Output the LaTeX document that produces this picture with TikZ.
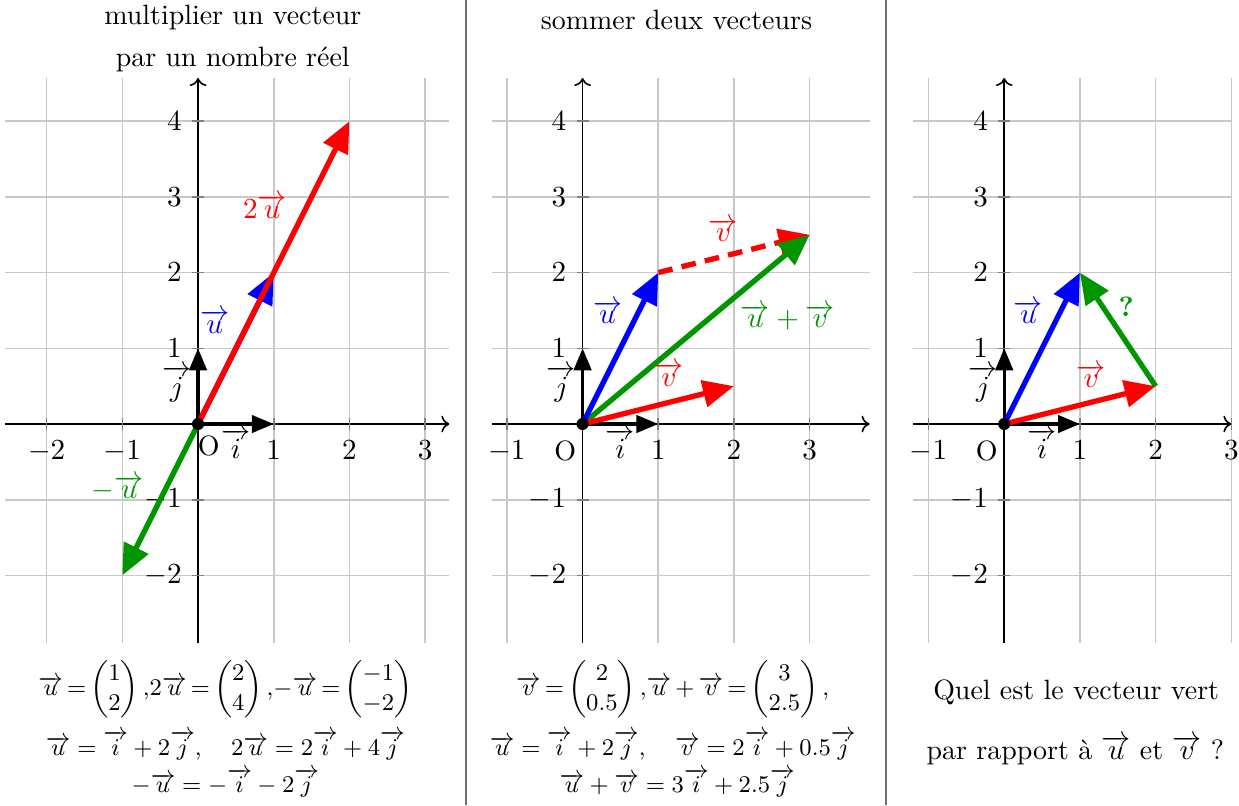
\documentclass[tikz,border=0pt]{standalone}
\usepackage{amsmath}
\usepackage{tikz}
\usetikzlibrary{arrows.meta}
\definecolor{vecgreen}{RGB}{0,150,0}
\definecolor{gridgray}{RGB}{200,200,200}
\definecolor{sepgray}{RGB}{110,110,110}
\tikzset{
  gridline/.style={gridgray, line width=0.6pt},
  axis/.style={-{To[length=3pt]}, line width=0.6pt},
  tickmark/.style={gray, line width=0.6pt},
  unitvec/.style={-{Triangle[length=0.29cm,width=0.23cm]}, line width=1.2pt},
  vecarrow/.style={-{Triangle[length=0.41cm,width=0.35cm]}, line width=2pt},
  xlab/.style={anchor=north, inner sep=0pt},
  ylab/.style={anchor=east, inner sep=0pt},
  vlab/.style={inner sep=0pt},
  eqn/.style={inner sep=0pt, font=\fontsize{9.5}{11}\selectfont},
  tighteqn/.style={eqn, execute at begin node={\thickmuskip=3mu plus 2mu\medmuskip=3mu plus 2mu}},
  separator/.style={sepgray, line width=1pt},
}

\begin{document}
\begin{tikzpicture}[font=\fontsize{10.5}{12.6}\selectfont]
  \useasboundingbox (-2.616,-5.033) rectangle (13.751,5.601);
  % separators
  \coordinate (s1t) at (3.54,5.601);  \coordinate (s1b) at (3.54,-5.033);
  \coordinate (s2t) at (9.09,5.601);  \coordinate (s2b) at (9.09,-5.033);
  \draw[separator] (s1t) -- (s1b);
  \draw[separator] (s2t) -- (s2b);

  % panel 1 : multiplier
  \begin{scope}
    \foreach \x in {-2,...,3} \draw[gridline] (\x,-2.89) -- (\x,4.57);
    \foreach \y in {-2,...,4} \draw[gridline] (-2.55,\y) -- (3.32,\y);
    \draw[axis] (-2.55,0) -- (3.32,0);
    \draw[axis] (0,-2.89) -- (0,4.57);
    \foreach \x [count=\k] in {-2,-1,1,2,3} {
      \draw[tickmark] (\x,-0.08) -- (\x,0.08);
      \node[xlab] (p1x\k) at (\x,-0.21) {$\x$};
    }
    \foreach \y [count=\k] in {-2,-1,1,2,3,4} {
      \draw[tickmark] (-0.08,\y) -- (0.08,\y);
      \node[ylab] (p1y\k) at (-0.21,\y) {$\y$};
    }
    \node[anchor=north west, inner sep=0pt] (o1) at (-0.01,-0.15) {O};
    \coordinate (O1) at (0,0);
    \coordinate (I1) at (1,0);
    \coordinate (J1) at (0,1);
    \coordinate (U1) at (1,2);
    \coordinate (W1) at (2,4);
    \coordinate (M1) at (-1,-2);
    \draw[unitvec] (O1) -- (I1);
    \draw[unitvec] (O1) -- (J1);
    \node[vlab, anchor=north] (i1) at (0.5,-0.06) {$\overrightarrow{i}$};
    \node[vlab] (j1) at (-0.28,0.53) {$\overrightarrow{j}$};
    \draw[vecarrow, blue] (O1) -- (U1);
    \draw[vecarrow, red, xshift=-1.3pt] (O1) -- (W1);
    \draw[vecarrow, vecgreen] (O1) -- (M1);
    \fill (O1) circle (0.08);
    \node[vlab, text=blue] (lu1) at (0.22,1.35) {$\overrightarrow{u}$};
    \node[vlab, text=red] (lw1) at (0.885,2.87) {$2\overrightarrow{u}$};
    \node[vlab, text=vecgreen] (lm1) at (-1.06,-0.85) {$-\overrightarrow{u}$};
    \node[align=center] (t1) at (0.46,5.095) {multiplier un vecteur\\[3pt]par un nombre réel};
    \node[tighteqn] (e1a) at (0.36,-3.51)
      {$\overrightarrow{u}=\begin{pmatrix}1\\2\end{pmatrix}{,}2\overrightarrow{u}=\begin{pmatrix}2\\4\end{pmatrix}{,}{-}\overrightarrow{u}=\begin{pmatrix}-1\\-2\end{pmatrix}$};
    \node[eqn] (e1b) at (0.36,-4.25)
      {$\overrightarrow{u}=\overrightarrow{i}+2\overrightarrow{j},\quad 2\overrightarrow{u}=2\overrightarrow{i}+4\overrightarrow{j}$};
    \node[eqn] (e1c) at (0.36,-4.74)
      {$-\overrightarrow{u}=-\overrightarrow{i}-2\overrightarrow{j}$};
  \end{scope}

  % panel 2 : sommer
  \begin{scope}[shift={(5.08,0)}]
    \foreach \x in {-1,...,3} \draw[gridline] (\x,-2.89) -- (\x,4.57);
    \foreach \y in {-2,...,4} \draw[gridline] (-1.2,\y) -- (3.79,\y);
    \draw[axis] (-1.2,0) -- (3.79,0);
    \draw[axis] (0,-2.89) -- (0,4.57);
    \foreach \x [count=\k] in {-1,1,2,3} {
      \draw[tickmark] (\x,-0.08) -- (\x,0.08);
      \node[xlab] (p2x\k) at (\x,-0.21) {$\x$};
    }
    \foreach \y [count=\k] in {-2,-1,1,2,3,4} {
      \draw[tickmark] (-0.08,\y) -- (0.08,\y);
      \node[ylab] (p2y\k) at (-0.21,\y) {$\y$};
    }
    \node[anchor=north east, inner sep=0pt] (o2) at (-0.08,-0.21) {O};
    \coordinate (O2) at (0,0);
    \coordinate (I2) at (1,0);
    \coordinate (J2) at (0,1);
    \coordinate (U2) at (1,2);
    \coordinate (V2) at (2,0.5);
    \coordinate (S2) at (3,2.5);
    \draw[unitvec] (O2) -- (I2);
    \draw[unitvec] (O2) -- (J2);
    \node[vlab, anchor=north] (i2) at (0.5,-0.06) {$\overrightarrow{i}$};
    \node[vlab] (j2) at (-0.28,0.53) {$\overrightarrow{j}$};
    \draw[vecarrow, red, dash pattern=on 5.5pt off 3.5pt] (U2) -- (S2);
    \draw[vecarrow, vecgreen] (O2) -- (S2);
    \draw[vecarrow, blue] (O2) -- (U2);
    \draw[vecarrow, red] (O2) -- (V2);
    \fill (O2) circle (0.08);
    \node[vlab, text=blue] (lu2) at (0.33,1.48) {$\overrightarrow{u}$};
    \node[vlab, text=red] (lv2) at (1.14,0.65) {$\overrightarrow{v}$};
    \node[vlab, text=red] (ld2) at (1.86,2.56) {$\overrightarrow{v}$};
    \node[vlab, text=vecgreen] (ls2) at (2.71,1.41) {$\overrightarrow{u}+\overrightarrow{v}$};
    \node (t2) at (1.24,5.34) {sommer deux vecteurs};
    \node[tighteqn] (e2a) at (1.19,-3.51)
      {$\overrightarrow{v}=\begin{pmatrix}2\\0.5\end{pmatrix}{,}\overrightarrow{u}+\overrightarrow{v}=\begin{pmatrix}3\\2.5\end{pmatrix}{,}$};
    \node[eqn] (e2b) at (1.19,-4.25)
      {$\overrightarrow{u}=\overrightarrow{i}+2\overrightarrow{j},\quad \overrightarrow{v}=2\overrightarrow{i}+0.5\overrightarrow{j}$};
    \node[eqn] (e2c) at (1.25,-4.74)
      {$\overrightarrow{u}+\overrightarrow{v}=3\overrightarrow{i}+2.5\overrightarrow{j}$};
  \end{scope}

  % panel 3 : question
  \begin{scope}[shift={(10.65,0)}]
    \foreach \x in {-1,...,3} \draw[gridline] (\x,-2.89) -- (\x,4.57);
    \foreach \y in {-2,...,4} \draw[gridline] (-1.2,\y) -- (3.0,\y);
    \draw[axis] (-1.2,0) -- (3.0,0);
    \draw[axis] (0,-2.89) -- (0,4.57);
    \foreach \x [count=\k] in {-1,1,2,3} {
      \draw[tickmark] (\x,-0.08) -- (\x,0.08);
      \node[xlab] (p3x\k) at (\x,-0.21) {$\x$};
    }
    \foreach \y [count=\k] in {-2,-1,1,2,3,4} {
      \draw[tickmark] (-0.08,\y) -- (0.08,\y);
      \node[ylab] (p3y\k) at (-0.21,\y) {$\y$};
    }
    \node[anchor=north east, inner sep=0pt] (o3) at (-0.08,-0.21) {O};
    \coordinate (O3) at (0,0);
    \coordinate (I3) at (1,0);
    \coordinate (J3) at (0,1);
    \coordinate (U3) at (1,2);
    \coordinate (V3) at (2,0.5);
    \draw[unitvec] (O3) -- (I3);
    \draw[unitvec] (O3) -- (J3);
    \node[vlab, anchor=north] (i3) at (0.5,-0.06) {$\overrightarrow{i}$};
    \node[vlab] (j3) at (-0.28,0.53) {$\overrightarrow{j}$};
    \draw[vecarrow, vecgreen] (V3) -- (U3);
    \draw[vecarrow, blue] (O3) -- (U3);
    \draw[vecarrow, red] (O3) -- (V3);
    \fill (O3) circle (0.08);
    \node[vlab, text=blue] (lu3) at (0.32,1.48) {$\overrightarrow{u}$};
    \node[vlab, text=red] (lv3) at (1.15,0.63) {$\overrightarrow{v}$};
    \node[vlab, text=vecgreen] (lq3) at (1.61,1.55) {\textbf{?}};
    \node (q3a) at (0.95,-3.54) {Quel est le vecteur vert};
    \node (q3b) at (0.94,-4.31) {par rapport à $\overrightarrow{u}$ et $\overrightarrow{v}$ ?};
  \end{scope}
\end{tikzpicture}
\end{document}
